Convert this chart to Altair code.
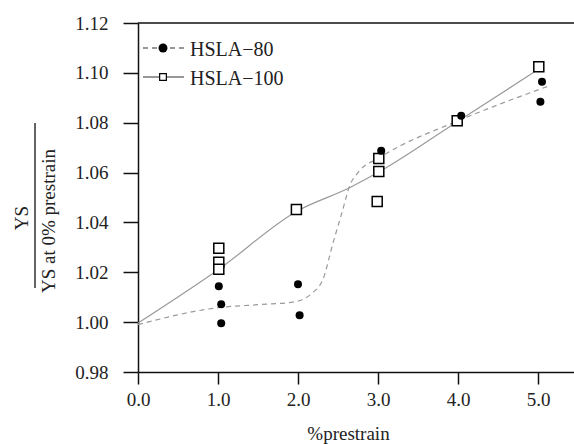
import altair as alt
import pandas as pd

# ---- data ----
x_ticks = [0, 1, 2, 3, 4, 5]
y_ticks = [0.98, 1.00, 1.02, 1.04, 1.06, 1.08, 1.10, 1.12]

h80_x = [1.01, 1.04, 1.04, 2.00, 2.02, 3.04, 4.04, 5.05, 5.03]
h80_y = [1.0144, 1.0072, 0.9996, 1.0152, 1.0028, 1.0688, 1.0828, 1.0964, 1.0884]

h100_x = [1.01, 1.01, 1.01, 1.98, 3.01, 3.01, 2.99, 3.99, 5.01]
h100_y = [1.0296, 1.0240, 1.0212, 1.0452, 1.0656, 1.0604, 1.0484, 1.0808, 1.1024]

fit80_x = [0.0, 1.0, 1.5, 1.93, 2.19, 2.31, 2.44, 2.55, 2.65, 2.75, 3.02, 4.02, 4.69, 5.14]
fit80_y = [0.999, 1.0058, 1.007, 1.008, 1.012, 1.017, 1.032, 1.044, 1.055, 1.060, 1.066, 1.081, 1.0895, 1.0948]

fit100_x = [0.0, 1.01, 1.98, 2.65, 3.02, 3.99, 5.01]
fit100_y = [0.9996, 1.0212, 1.0444, 1.054, 1.0604, 1.0804, 1.1015]

series_names = ["HSLA\u221280", "HSLA\u2212100"]
y_title_top = "YS"
y_title_bottom = "YS at 0% prestrain"
x_title = "%prestrain"

# ---- build tables ----
pts80 = pd.DataFrame({"x": h80_x, "y": h80_y})
pts100 = pd.DataFrame({"x": h100_x, "y": h100_y})
fit80 = pd.DataFrame({"x": fit80_x, "y": fit80_y})
fit100 = pd.DataFrame({"x": fit100_x, "y": fit100_y})
one = pd.DataFrame({"k": [0]})

W, H = 436, 349
FONT = "'Liberation Serif', 'Times New Roman', 'DejaVu Serif', serif"
TXT = "#222222"

xs = alt.Scale(domain=[0, 5.45], nice=False, zero=False)
ys = alt.Scale(domain=[0.98, 1.12], nice=False, zero=False)

x_axis = alt.Axis(
    values=x_ticks, format=".1f", tickSize=12, tickWidth=1.5, tickColor="#111",
    domainWidth=1.5, domainColor="#111", grid=False, labelFlush=False,
    labelFont=FONT, labelFontSize=19, labelColor=TXT, labelPadding=6,
    title=x_title, titleFont=FONT, titleFontSize=19, titleFontWeight="normal",
    titleColor=TXT, titleX=210, titleY=67, titleBaseline="alphabetic",
)
y_axis = alt.Axis(
    values=y_ticks, format=".2f", tickSize=15, tickWidth=1.5, tickColor="#111",
    domainWidth=1.5, domainColor="#111", grid=False, labelFlush=False,
    labelFont=FONT, labelFontSize=19, labelColor=TXT, labelPadding=15,
    title=None,
)

X = alt.X("x:Q", scale=xs, axis=x_axis)
Y = alt.Y("y:Q", scale=ys, axis=y_axis)

line100 = alt.Chart(fit100).mark_line(
    color="#9a9a9a", strokeWidth=1.2, interpolate="monotone"
).encode(x=X, y=Y)
line80 = alt.Chart(fit80).mark_line(
    color="#9a9a9a", strokeWidth=1.2, strokeDash=[5, 4], interpolate="monotone"
).encode(x=X, y=Y)
p80 = alt.Chart(pts80).mark_point(
    shape="circle", filled=True, color="black", size=64, opacity=1
).encode(x=X, y=Y)
p100 = alt.Chart(pts100).mark_point(
    shape="square", filled=True, fill="white", stroke="black", strokeWidth=1.5,
    size=100, opacity=1
).encode(x=X, y=Y)

top_rule = alt.Chart(one).mark_rule(color="#111", strokeWidth=1.5).encode(
    x=alt.value(0), x2=alt.value(W), y=alt.value(0)
)

# legend (drawn by hand, top-left inside the plot)
leg_line80 = alt.Chart(one).mark_rule(color="#333", strokeWidth=1.2, strokeDash=[5, 4]).encode(
    x=alt.value(5), x2=alt.value(46), y=alt.value(25)
)
leg_pt80 = alt.Chart(one).mark_point(
    shape="circle", filled=True, color="black", size=80, opacity=1
).encode(x=alt.value(25), y=alt.value(25))
leg_txt80 = alt.Chart(one).mark_text(
    text=series_names[0], font=FONT, fontSize=20, color=TXT, align="left", baseline="middle"
).encode(x=alt.value(52), y=alt.value(27))

leg_line100 = alt.Chart(one).mark_rule(color="#333", strokeWidth=1.2).encode(
    x=alt.value(5), x2=alt.value(46), y=alt.value(54)
)
leg_pt100 = alt.Chart(one).mark_point(
    shape="square", filled=True, fill="white", stroke="black", strokeWidth=1.2,
    size=45, opacity=1
).encode(x=alt.value(25), y=alt.value(54))
leg_txt100 = alt.Chart(one).mark_text(
    text=series_names[1], font=FONT, fontSize=20, color=TXT, align="left", baseline="middle"
).encode(x=alt.value(52), y=alt.value(56))

# y-axis title as a fraction
yt_top = alt.Chart(one).mark_text(
    text=y_title_top, font=FONT, fontSize=19, color=TXT, angle=270,
    align="center", baseline="middle"
).encode(x=alt.value(-116), y=alt.value(195))
yt_bar = alt.Chart(one).mark_rule(color="#111", strokeWidth=1.3).encode(
    x=alt.value(-103), y=alt.value(100), y2=alt.value(265)
)
yt_bot = alt.Chart(one).mark_text(
    text=y_title_bottom, font=FONT, fontSize=19, color=TXT, angle=270,
    align="center", baseline="middle"
).encode(x=alt.value(-89), y=alt.value(198))

chart = alt.layer(
    line100, line80, p100, p80, top_rule,
    leg_line80, leg_pt80, leg_txt80, leg_line100, leg_pt100, leg_txt100,
    yt_top, yt_bar, yt_bot,
).properties(
    width=W, height=H,
    autosize=alt.AutoSizeParams(type="none"),
    padding={"left": 138, "top": 23, "right": 0, "bottom": 72},
).configure_view(stroke=None)

chart.save("out.html", embed_options={"renderer": "svg", "actions": False})
